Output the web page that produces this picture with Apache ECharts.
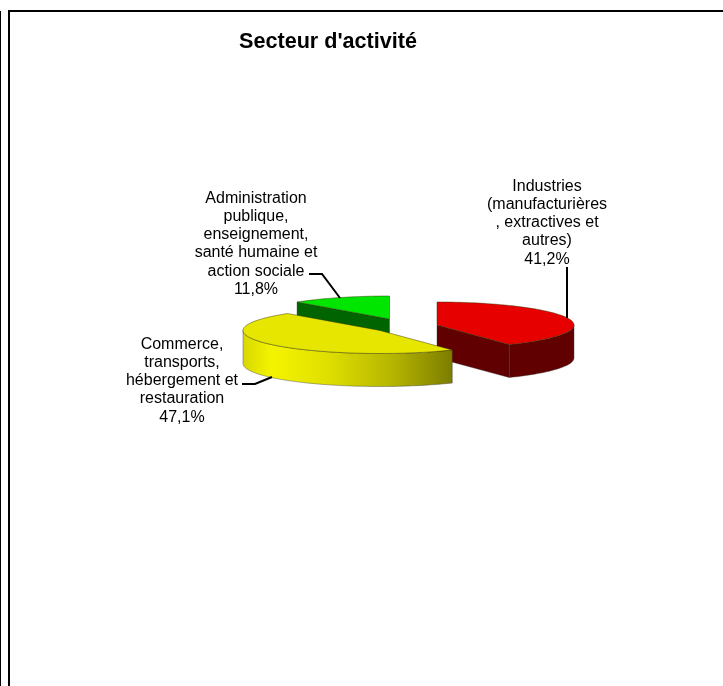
<!DOCTYPE html>
<html>
<head>
<meta charset="utf-8">
<title>Secteur d'activité</title>
<style>
html, body { margin: 0; padding: 0; background: #fff; }
#data_show { width: 723px; height: 686px; }
</style>
<script src="https://cdn.jsdelivr.net/npm/echarts@6/dist/echarts.min.js"></script>
</head>
<body>
<div id="data_show"></div>
<script>
var chart_title = "Secteur d'activité";
var sector_names = [
	'Industries\n(manufacturières\n, extractives et\nautres)',
	'Commerce,\ntransports,\nhébergement et\nrestauration',
	'Administration\npublique,\nenseignement,\nsanté humaine et\naction sociale'
];
var sector_percent = [41.2, 47.1, 11.8];

// layout only, one entry per slice
var slice_center = [[437, 325], [380, 330.5], [389.5, 319]];
var slice_top_color = ['#e60000', '#e6e600', '#00e600'];
var slice_wall_color = ['#600000', '#808000', '#006400'];
var slice_z = [20, 30, 10];
var label_center = [[547, 177], [182, 335], [256, 189]];
var leader_path = [
	[[567, 267], [567, 318]],
	[[242, 384], [255, 384], [272, 377]],
	[[309, 274], [322, 274], [340, 298]]
];
var pie_a = 137;
var pie_b = 23;
var pie_depth = 33;
var start_angle = 90;

var font_name = '"Liberation Sans", Arial, sans-serif';

function ellipse_points(center, from_deg, to_deg, drop){
	var points = [];
	var steps = Math.max(2, Math.ceil(Math.abs(to_deg - from_deg) / 2));
	for(var i = 0; i <= steps; i++){
		var t = (from_deg + (to_deg - from_deg) * i / steps) * Math.PI / 180;
		points.push([center[0] + pie_a * Math.cos(t), center[1] - pie_b * Math.sin(t) + drop]);
	}
	return points;
}

function wall_fill(index){
	if(index == 1){
		return new echarts.graphic.LinearGradient(0, 0, 1, 0, [
			{offset: 0, color: '#d8d800'},
			{offset: 0.14, color: '#f4f400'},
			{offset: 0.4, color: '#e0e000'},
			{offset: 0.72, color: '#b4b400'},
			{offset: 1, color: '#7c7c00'}
		]);
	}
	return slice_wall_color[index];
}

function render_slice(params, api){
	var index = params.dataIndex;
	var total = 0;
	var before = 0;
	for(var i = 0; i < sector_percent.length; i++){
		total += sector_percent[i];
		if(i < index){
			before += sector_percent[i];
		}
	}
	var from_deg = start_angle - before / total * 360;
	var to_deg = from_deg - api.value(0) / total * 360;
	var center = slice_center[index];
	var z = slice_z[index];
	var children = [];

	// the cut face nearest the viewer
	var cut_deg = null;
	if(index == 0){
		cut_deg = to_deg;
	}else if(index == 2){
		cut_deg = from_deg;
	}
	if(cut_deg !== null){
		var edge = ellipse_points(center, cut_deg, cut_deg, 0)[0];
		children.push({
			type: 'polygon',
			z2: z,
			shape: {points: [
				center,
				edge,
				[edge[0], edge[1] + pie_depth],
				[center[0], center[1] + pie_depth]
			]},
			style: {fill: slice_wall_color[index], stroke: 'rgba(40,40,40,0.6)', lineWidth: 0.6}
		});
	}

	// outer wall, front half of the ellipse only
	var wall_from = Math.min(from_deg, 0);
	var wall_to = Math.max(to_deg, -180);
	if(wall_from > wall_to){
		var upper = ellipse_points(center, wall_from, wall_to, 0);
		var lower = ellipse_points(center, wall_to, wall_from, pie_depth);
		children.push({
			type: 'polygon',
			z2: z + 1,
			shape: {points: upper.concat(lower)},
			style: {fill: wall_fill(index), stroke: 'rgba(60,60,60,0.7)', lineWidth: 0.6}
		});
	}

	// top face
	children.push({
		type: 'polygon',
		z2: z + 2,
		shape: {points: [center].concat(ellipse_points(center, from_deg, to_deg, 0))},
		style: {fill: slice_top_color[index], stroke: 'rgba(50,50,0,0.65)', lineWidth: 0.7}
	});

	// leader line + label
	children.push({
		type: 'polyline',
		z2: 40,
		shape: {points: leader_path[index]},
		style: {fill: null, stroke: '#000', lineWidth: 2}
	});
	children.push({
		type: 'text',
		z2: 41,
		style: {
			x: label_center[index][0],
			y: label_center[index][1],
			text: sector_names[index] + '\n' + api.value(0).toFixed(1).replace('.', ',') + '%',
			align: 'center',
			verticalAlign: 'top',
			fontFamily: font_name,
			fontSize: 16,
			lineHeight: 18.3,
			fill: '#000'
		}
	});
	return {type: 'group', children: children};
}

var data_show = echarts.init(document.getElementById('data_show'));
var option = {
	animation: false,
	backgroundColor: '#fff',
	title: {
		text: chart_title,
		left: 323,
		top: 26,
		textAlign: 'center',
		textStyle: {
			fontFamily: font_name,
			fontSize: 21.6,
			fontWeight: 'bold',
			color: '#000'
		}
	},
	graphic: [
		{type: 'rect', silent: true, shape: {x: 8, y: 10, width: 715, height: 2}, style: {fill: '#000'}},
		{type: 'rect', silent: true, shape: {x: 8, y: 10, width: 2, height: 676}, style: {fill: '#000'}},
		{type: 'rect', silent: true, shape: {x: 0, y: 11, width: 1, height: 675}, style: {fill: '#000'}}
	],
	series: [
		{
			type: 'custom',
			coordinateSystem: 'none',
			renderItem: render_slice,
			silent: true,
			data: sector_percent
		}
	]
};
data_show.setOption(option);
</script>
</body>
</html>
